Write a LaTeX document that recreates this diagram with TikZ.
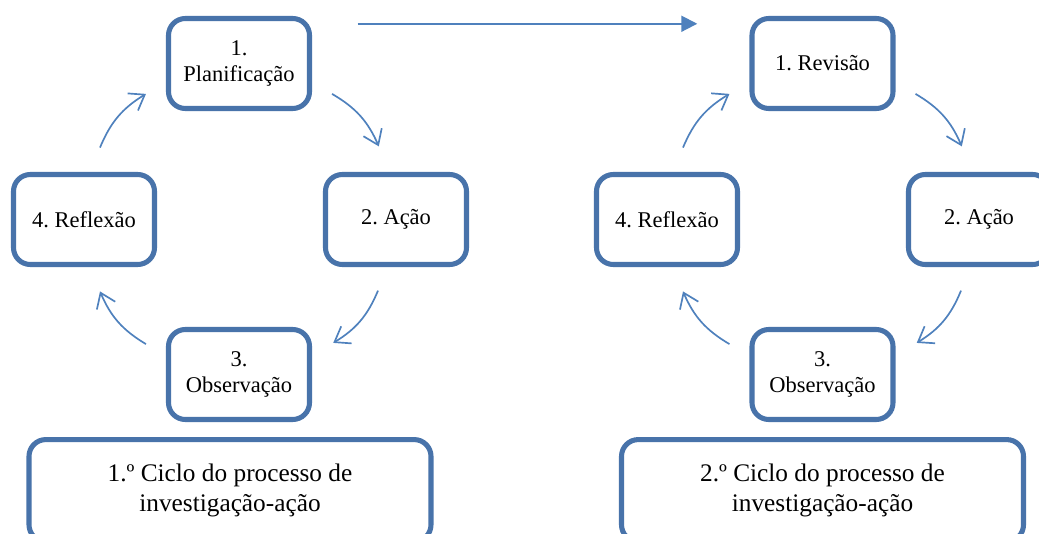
\documentclass[tikz,border=0pt]{standalone}
\usepackage{fontspec}
\setmainfont{Liberation Serif}
\frenchspacing
\usetikzlibrary{positioning,calc,arrows.meta}
\definecolor{boxblue}{RGB}{72,115,170}
\definecolor{arrowblue}{RGB}{79,129,189}
\tikzset{
  etapa/.style={draw=boxblue,line width=3.6pt,rounded corners=0.42cm,fill=white,
    minimum width=3.525cm,minimum height=2.25cm,align=center,
    font=\fontsize{16}{19}\selectfont},
  ciclo/.style={etapa,minimum width=10.05cm,minimum height=2.55cm,
    font=\fontsize{18}{21}\selectfont},
  seta/.style={draw=arrowblue,line width=1.2pt,-{Straight Barb[length=3.5mm,width=5mm]}},
  passo/.style={draw=arrowblue,line width=1.4pt,-{Triangle[length=4mm,width=4mm]}},
}
\begin{document}
\begin{tikzpicture}[x=1cm,y=1cm]
	\useasboundingbox (0,0) rectangle (25.975,13.325);
	\clip (0,0) rectangle (25.975,13.325);
	% 1.º ciclo
	\node[etapa] (plan) at (5.975,11.7375) {1.\\Planificação};
	\node[etapa] (acao1) at (9.9,7.8375) {2. Ação};
	\node[etapa] (obs1) at (5.975,3.9625) {3.\\Observação};
	\node[etapa] (refl1) at (2.1,7.8375) {4. Reflexão};
	\node[ciclo,below=0.375cm of obs1,xshift=-0.225cm] (ciclo1) {1.º Ciclo do processo de\\investigação-ação};
	% 2.º ciclo
	\node[etapa] (rev) at (20.5625,11.7375) {1. Revisão};
	\node[etapa] (acao2) at (24.475,7.8375) {2. Ação};
	\node[etapa] (obs2) at (20.5625,3.9625) {3.\\Observação};
	\node[etapa] (refl2) at (16.675,7.8375) {4. Reflexão};
	\node[ciclo,below=0.375cm of obs2] (ciclo2) {2.º Ciclo do processo de\\investigação-ação};
	% setas de cada ciclo
	\foreach \topo/\n in {plan/1,rev/2}{
		\draw[seta] ($(\topo.east)+(0.5,-0.76)$) to[bend left=18] ($(acao\n.north)+(-0.43,0.64)$);
		\draw[seta] ($(acao\n.south)+(-0.45,-0.59)$) to[bend left=18] ($(obs\n.east)+(0.53,0.79)$);
		\draw[seta] ($(obs\n.west)+(-0.5,0.76)$) to[bend left=18] ($(refl\n.south)+(0.4,-0.61)$);
		\draw[seta] ($(refl\n.north)+(0.4,0.61)$) to[bend left=18] ($(\topo.west)+(-0.5,-0.76)$);
	}
	% passagem de um ciclo ao outro
	\draw[passo] ($(plan.north east)+(1.14,-0.195)$) -- ($(rev.north west)+(-1.305,-0.195)$);
\end{tikzpicture}
\end{document}
